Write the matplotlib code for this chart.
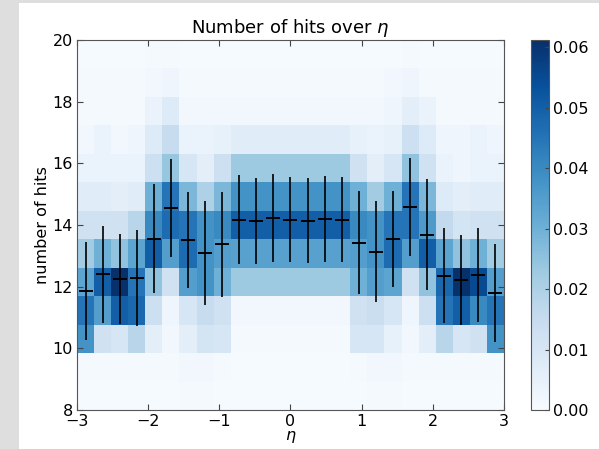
import numpy as np
import matplotlib
matplotlib.use('Agg')
import matplotlib.pyplot as plt
from matplotlib.patches import Rectangle

# binning of the 2D histogram
eta_edges = np.linspace(-3, 3, 26)
hit_edges = np.linspace(8, 20, 14)

# normalised counts, one list per hit bin, written from the top bin (19.1-20) down to the bottom one (8-8.9)
row_12 = [0.0005, 0.0005, 0.0005, 0.0005, 0.001, 0.001, 0.0005, 0.0005, 0.0005, 0.0005, 0.0005, 0.0005, 0.0005,
          0.0005, 0.0005, 0.0005, 0.0005, 0.0005, 0.0005, 0.001, 0.0005, 0.0005, 0.0005, 0.0005, 0.0005]
row_11 = [0.001, 0.001, 0.001, 0.001, 0.002, 0.003, 0.001, 0.001, 0.001, 0.001, 0.001, 0.001, 0.001,
          0.001, 0.001, 0.001, 0.001, 0.001, 0.002, 0.003, 0.001, 0.001, 0.001, 0.001, 0.001]
row_10 = [0.001, 0.001, 0.001, 0.001, 0.004, 0.008, 0.002, 0.002, 0.002, 0.002, 0.002, 0.002, 0.002,
          0.002, 0.002, 0.002, 0.002, 0.002, 0.003, 0.006, 0.004, 0.001, 0.001, 0.001, 0.001]
row_9 = [0.002, 0.004, 0.002, 0.003, 0.008, 0.015, 0.004, 0.004, 0.005, 0.007, 0.007, 0.007, 0.007,
         0.007, 0.007, 0.007, 0.005, 0.004, 0.005, 0.013, 0.008, 0.003, 0.003, 0.004, 0.003]
row_8 = [0.004, 0.004, 0.004, 0.004, 0.013, 0.024, 0.010, 0.006, 0.013, 0.023, 0.023, 0.023, 0.023,
         0.023, 0.023, 0.023, 0.012, 0.006, 0.010, 0.025, 0.012, 0.004, 0.003, 0.004, 0.004]
row_7 = [0.007, 0.007, 0.006, 0.007, 0.030, 0.045, 0.028, 0.020, 0.028, 0.038, 0.038, 0.038, 0.038,
         0.038, 0.038, 0.038, 0.030, 0.022, 0.030, 0.045, 0.028, 0.008, 0.006, 0.007, 0.007]
row_6 = [0.012, 0.012, 0.012, 0.018, 0.040, 0.047, 0.045, 0.038, 0.040, 0.050, 0.050, 0.050, 0.050,
         0.050, 0.050, 0.050, 0.040, 0.038, 0.045, 0.045, 0.036, 0.016, 0.011, 0.012, 0.012]
row_5 = [0.022, 0.030, 0.025, 0.033, 0.050, 0.035, 0.047, 0.038, 0.035, 0.034, 0.034, 0.034, 0.034,
         0.034, 0.034, 0.034, 0.035, 0.038, 0.047, 0.035, 0.050, 0.033, 0.025, 0.030, 0.022]
row_4 = [0.033, 0.050, 0.061, 0.045, 0.025, 0.012, 0.035, 0.038, 0.030, 0.023, 0.023, 0.023, 0.023,
         0.023, 0.023, 0.023, 0.030, 0.035, 0.033, 0.012, 0.025, 0.048, 0.061, 0.055, 0.035]
row_3 = [0.045, 0.035, 0.050, 0.048, 0.013, 0.003, 0.010, 0.015, 0.012, 0.002, 0.002, 0.002, 0.002,
         0.002, 0.002, 0.002, 0.012, 0.014, 0.010, 0.003, 0.013, 0.045, 0.050, 0.040, 0.045]
row_2 = [0.038, 0.012, 0.010, 0.018, 0.006, 0.002, 0.006, 0.011, 0.010, 0.001, 0.001, 0.001, 0.001,
         0.001, 0.001, 0.001, 0.010, 0.010, 0.005, 0.002, 0.006, 0.018, 0.010, 0.012, 0.038]
row_1 = [0.001, 0.001, 0.001, 0.001, 0.001, 0.001, 0.002, 0.002, 0.001, 0.0005, 0.0005, 0.0005, 0.0005,
         0.0005, 0.0005, 0.0005, 0.001, 0.002, 0.002, 0.001, 0.001, 0.001, 0.001, 0.001, 0.001]
row_0 = [0.0005, 0.0005, 0.0005, 0.0005, 0.0005, 0.0005, 0.001, 0.001, 0.0005, 0.0005, 0.0005, 0.0005, 0.0005,
         0.0005, 0.0005, 0.0005, 0.0005, 0.001, 0.001, 0.0005, 0.0005, 0.0005, 0.0005, 0.0005, 0.0005]

# mean and spread of the number of hits in each eta bin
mean_hits = [11.86, 12.40, 12.25, 12.29, 13.55, 14.55, 13.52, 13.08, 13.37, 14.17, 14.14, 14.22, 14.17,
             14.14, 14.19, 14.17, 13.43, 13.13, 13.54, 14.58, 13.68, 12.36, 12.22, 12.38, 11.80]
std_hits = [1.60, 1.58, 1.46, 1.56, 1.77, 1.60, 1.56, 1.69, 1.71, 1.44, 1.40, 1.42, 1.38,
            1.38, 1.39, 1.38, 1.67, 1.64, 1.56, 1.60, 1.80, 1.54, 1.45, 1.53, 1.59]

cbar_ticks = [0.00, 0.01, 0.02, 0.03, 0.04, 0.05, 0.06]

hist2d = np.array([row_0, row_1, row_2, row_3, row_4, row_5, row_6,
                   row_7, row_8, row_9, row_10, row_11, row_12])
eta_centers = 0.5 * (eta_edges[:-1] + eta_edges[1:])

fig = plt.figure(figsize=(5.99, 4.49), dpi=100, facecolor='#dedede')
fig.add_artist(Rectangle((19 / 599, 0), 1, 446 / 449, transform=fig.transFigure,
                         facecolor='white', edgecolor='none', zorder=-10))

ax = fig.add_axes([0.1285, 0.0869, 0.7129, 0.824])
cax = fig.add_axes([0.8865, 0.0869, 0.030, 0.824])

mesh = ax.pcolormesh(eta_edges, hit_edges, hist2d, cmap='Blues', vmin=0, vmax=0.0612)
ax.errorbar(eta_centers, mean_hits, yerr=std_hits, fmt='_', color='black',
            ms=9.5, mew=1.4, elinewidth=1.2, capsize=0)

ax.set_xlim(-3, 3)
ax.set_ylim(8, 20)
ax.set_xticks([-3, -2, -1, 0, 1, 2, 3])
ax.set_yticks([8, 10, 12, 14, 16, 18, 20])
ax.tick_params(direction='in', top=True, right=True, length=4, width=0.8,
               labelsize=11.5, pad=3, color='#444444')
for sp in ax.spines.values():
    sp.set_color('#555555')
ax.set_title(r'Number of hits over $\eta$', fontsize=13, pad=5)
ax.set_xlabel(r'$\eta$', fontsize=11.5, labelpad=0)
ax.set_ylabel('number of hits', fontsize=11.5, labelpad=2)

cb = fig.colorbar(mesh, cax=cax, ticks=cbar_ticks, format='%.2f')
cb.ax.tick_params(direction='in', length=3, width=0.8, labelsize=11.5, pad=3, color='#444444')
cb.outline.set_edgecolor('#555555')

fig.savefig('out.png', dpi=100, facecolor=fig.get_facecolor())
